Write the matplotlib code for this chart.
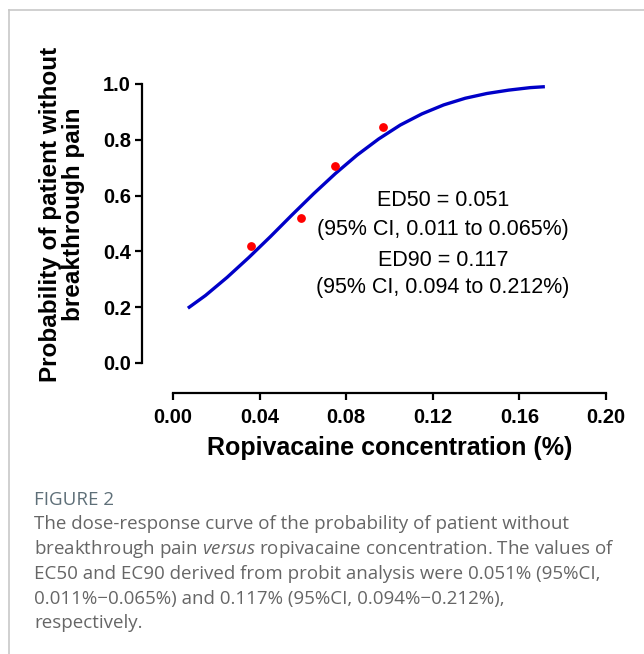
import matplotlib.pyplot as plt

# observed points (red dots)
dose = [0.036, 0.059, 0.075, 0.097]
prob_no_pain = [0.42, 0.52, 0.705, 0.845]

# fitted probit curve
fit_x = [0.0075, 0.015, 0.025, 0.035, 0.045, 0.055, 0.065, 0.075, 0.085,
         0.095, 0.105, 0.115, 0.125, 0.135, 0.145, 0.155, 0.165, 0.171]
fit_y = [0.200, 0.242, 0.307, 0.378, 0.453, 0.531, 0.607, 0.679, 0.745,
         0.803, 0.853, 0.893, 0.925, 0.949, 0.966, 0.978, 0.987, 0.990]

xticks = [0.00, 0.04, 0.08, 0.12, 0.16, 0.20]
xtick_labels = ["0.00", "0.04", "0.08", "0.12", "0.16", "0.20"]
yticks = [0.0, 0.2, 0.4, 0.6, 0.8, 1.0]
ytick_labels = ["0.0", "0.2", "0.4", "0.6", "0.8", "1.0"]

annot_lines = ["ED50 = 0.051", "(95% CI, 0.011 to 0.065%)",
               "ED90 = 0.117", "(95% CI, 0.094 to 0.212%)"]

caption_title = "FIGURE 2"
caption_lines = [
    "The dose-response curve of the probability of patient without",
    "breakthrough pain $\\mathit{versus}$ ropivacaine concentration. The values of",
    "EC50 and EC90 derived from probit analysis were 0.051% (95%CI,",
    "0.011%\u22120.065%) and 0.117% (95%CI, 0.094%\u22120.212%),",
    "respectively.",
]

W, H = 644, 654
plt.rcParams['font.family'] = ['Liberation Sans', 'DejaVu Sans']
plt.rcParams['mathtext.fontset'] = 'custom'
plt.rcParams['mathtext.it'] = 'Open Sans:italic'

fig = plt.figure(figsize=(W / 100, H / 100), dpi=100)

# page frame (top and left rules)
fig.add_artist(plt.Line2D([9 / W, 1], [1 - 10 / H, 1 - 10 / H], color='#c8c8c8', lw=1.2))
fig.add_artist(plt.Line2D([9 / W, 9 / W], [0, 1 - 10 / H], color='#c8c8c8', lw=1.2))

ax = fig.add_axes([173 / W, 1 - 393 / H, (606 - 173) / W, (393 - 84) / H])
ax.set_xlim(0, 0.2)
ax.set_ylim(-30 / 279, 1.0)

ax.plot(fit_x, fit_y, color='#0000c8', lw=2.4, clip_on=False)
ax.scatter(dose, prob_no_pain, s=28, color='#ff0000', zorder=3, clip_on=False)

for s in ['top', 'right']:
    ax.spines[s].set_visible(False)
ax.spines['left'].set_position(('outward', 31 * 0.72))
ax.spines['left'].set_bounds(0, 1)
ax.spines['bottom'].set_bounds(0, 0.2)
for s in ['left', 'bottom']:
    ax.spines[s].set_linewidth(1.6)

ax.set_xticks(xticks)
ax.set_xticklabels(xtick_labels)
ax.set_yticks(yticks)
ax.set_yticklabels(ytick_labels)
ax.tick_params(direction='out', length=5, width=1.6, labelsize=14.5)
ax.tick_params(axis='x', pad=6)
ax.tick_params(axis='y', pad=3)
for lab in ax.get_xticklabels() + ax.get_yticklabels():
    lab.set_fontweight('bold')

fig.text(390 / W, 1 - 448 / H, "Ropivacaine concentration (%)",
         ha='center', va='center', fontsize=18, fontweight='bold')
fig.text(62 / W, 1 - 214 / H, "Probability of patient without\nbreakthrough pain",
         ha='center', va='center', rotation=90, multialignment='center',
         fontsize=17.5, fontweight='bold', linespacing=1.05)

annot_y = [200, 229, 261, 287]
for txt, yy in zip(annot_lines, annot_y):
    fig.text(443 / W, 1 - yy / H, txt, ha='center', va='center', fontsize=15.5)

fig.text(34 / W, 1 - 500 / H, caption_title, ha='left', va='center',
         fontsize=13.5, color='#5e6f78', family='Open Sans')
cap_y = [529, 554, 579, 604, 628]
for txt, yy in zip(caption_lines, cap_y):
    fig.text(34 / W, 1 - yy / H, txt, ha='left', va='baseline',
             fontsize=13.5, color='#666666', family='Open Sans')

fig.savefig('out.png', dpi=100)
